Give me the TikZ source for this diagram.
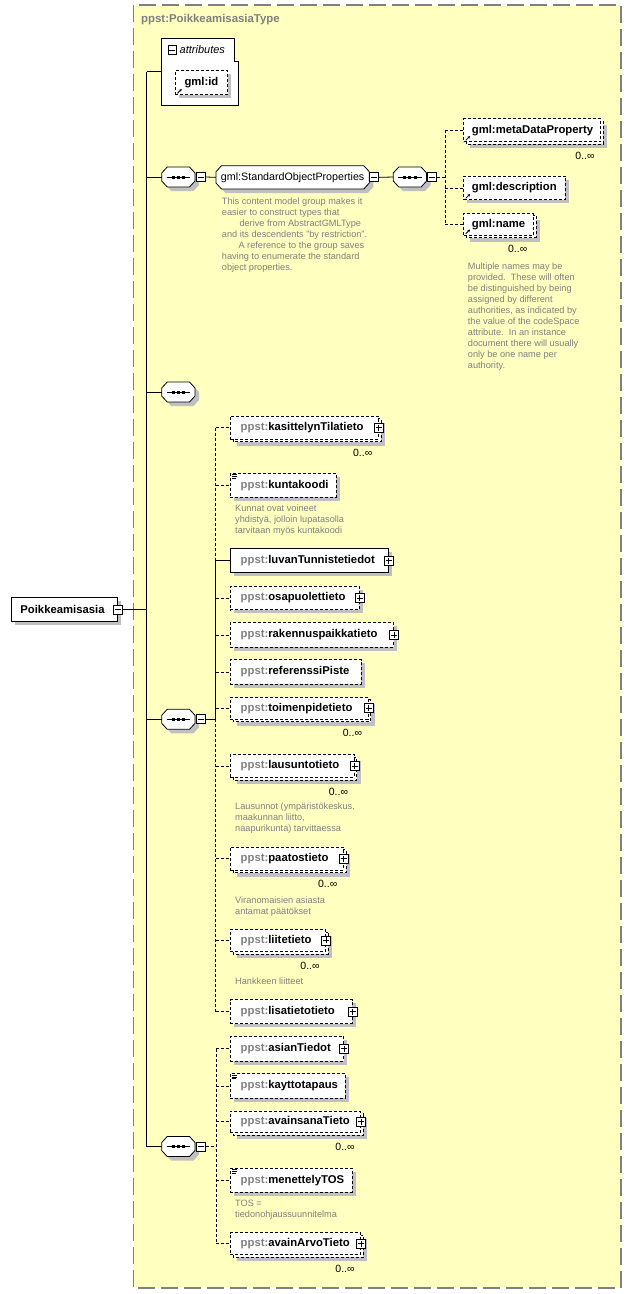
\documentclass[tikz,border=0pt]{standalone}
\usepackage{fontspec}
\setmainfont{Liberation Sans}
\usetikzlibrary{arrows.meta,calc}
\definecolor{ylw}{RGB}{255,255,192}
\definecolor{shd}{RGB}{192,192,192}
\definecolor{pfx}{RGB}{128,128,128}
\definecolor{doc}{RGB}{128,128,128}
\definecolor{frm}{RGB}{128,128,128}
\tikzset{
  box/.style={draw=black, fill=white, rectangle, inner sep=0pt, anchor=north west, line width=0.8pt},
  opt/.style={dash pattern=on 3pt off 2pt},
  req/.style={solid},
  elt/.style={inner sep=0pt, font=\fontsize{11.3}{13}\selectfont\bfseries},
  mult/.style={inner sep=0pt, font=\fontsize{10.5}{12}\selectfont},
  docn/.style={inner sep=0pt, anchor=north west, align=left, text=doc, font=\fontsize{9.2}{11}\selectfont},
  pmbox/.style={draw=black, fill=white, rectangle, minimum size=9pt, inner sep=0pt, line width=0.8pt},
  plusbox/.style={pmbox, path picture={\draw[line width=0.8pt] ([xshift=-3pt]path picture bounding box.center) -- ([xshift=3pt]path picture bounding box.center) ([yshift=-3pt]path picture bounding box.center) -- ([yshift=3pt]path picture bounding box.center);}},
  minusbox/.style={pmbox, path picture={\draw[line width=0.8pt] ([xshift=-3pt]path picture bounding box.center) -- ([xshift=3pt]path picture bounding box.center);}},
  con/.style={line width=0.8pt},
  dcon/.style={line width=0.8pt, dash pattern=on 3pt off 2pt},
}
% single element: #1 style, #2 name, #3 x0, #4 y0, #5 x1, #6 y1, #7 text, #8 text offset
\newcommand\xSingle[8]{%
  \fill[shd] (#3+4,#4+4) rectangle (#5+4,#6+4);
  \node[box,#1,minimum width=#5-#3,minimum height=#6-#4] (#2) at (#3,#4) {};
  \node[elt,anchor=west] (#2-t) at ([xshift=#8pt]#2.west) {#7};
}
% multiple element
\newcommand\xMulti[8]{%
  \fill[shd] (#3+7,#4+7) rectangle (#5+4,#6+4);
  \draw[#1,fill=white,line width=0.8pt] (#3+3,#4+3) rectangle (#5,#6);
  \node[box,#1,minimum width=#5-#3-3,minimum height=#6-#4-3] (#2) at (#3,#4) {};
  \node[elt,anchor=west] (#2-t) at ([xshift=#8pt]#2.west) {#7};
  \node[mult,anchor=east] (#2-c) at (#5-8.5,#6+11.5) {0..∞};
}
\newcommand\xPlus[1]{\node[plusbox] (#1-p) at (#1.east) {};}
\newcommand\xIco[1]{%
  \draw[line width=0.6pt] ($(#1.north west)+(2.2,2)$) -- ++(5,0);
  \draw[line width=0.6pt] ($(#1.north west)+(2.2,3.6)$) -- ++(5,0);
  \draw[line width=0.6pt] ($(#1.north west)+(2.2,5.2)$) -- ++(3.5,0);
}
\newcommand\xRefIco[1]{%
  \draw[line width=0.8pt,-{Stealth[length=2.6pt,width=2.8pt]}] ($(#1.south west)+(2.5,-1.8)$) -- ++(4.2,-4.2);
}
\newcommand\xOct[5]{%
  \path[#1] (#2,#3+6) -- (#2+5.5,#3) -- (#4-5.5,#3) -- (#4,#3+6) -- (#4,#5-6) -- (#4-5.5,#5) -- (#2+5.5,#5) -- (#2,#5-6) -- cycle;}
% sequence: #1 name, #2 x0, #3 cy
\newcommand\xSeq[3]{%
  \xOct{fill=shd}{#2+4}{#3-10+4}{#2+33.3+4}{#3+10+4}
  \xOct{draw,fill=white,line width=0.8pt}{#2}{#3-10}{#2+33.3}{#3+10}
  \node[inner sep=0pt,outer sep=0pt,minimum width=33.3pt,minimum height=20pt,anchor=west] (#1) at (#2,#3) {};
  \draw[line width=0.8pt] (#2+5,#3) -- (#2+28.3,#3);
  \foreach \dx in {11.5,16.65,21.8} {\fill (#2+\dx-1.5,#3-1.5) rectangle ++(3,3);}
}
\begin{document}
\begin{tikzpicture}[x=1pt,y=-1pt]
\useasboundingbox (0,0) rectangle (632,1294);
% frame
\draw[fill=ylw, draw=frm, line width=1.2pt, dash pattern=on 17pt off 6pt] (133.3,5) rectangle (621,1288);
\node[anchor=west, inner sep=0pt, text=pfx, font=\fontsize{11.4}{13}\selectfont\bfseries] (title) at (141,19.3) {ppst:PoikkeamisasiaType};

% root element
\xSingle{req}{poik}{10.7}{597.3}{117.3}{621}{Poikkeamisasia}{9.5}
\node[minusbox] (poik-m) at (poik.east) {};

% attributes
\draw[fill=white,line width=0.8pt] (161.7,38.3) -- (234,38.3) -- (234,61) -- (238.3,61) -- (238.3,105) -- (161.7,105) -- cycle;
\node[inner sep=0pt,outer sep=0pt,minimum width=76.6pt,minimum height=66.7pt,anchor=north west] (attrs) at (161.7,38.3) {};
\node[minusbox,minimum size=8.6pt] (attrs-m) at (172.2,50) {};
\node[anchor=west,inner sep=0pt,font=\fontsize{11}{13}\selectfont\itshape] (attrs-t) at (179.5,50) {attributes};
\xSingle{opt}{gid}{175}{70}{227.3}{94.3}{gml:id}{9.3}
\xRefIco{gid}

% sequences
\xSeq{s1}{161.7}{177}
\node[minusbox] (s1-m) at (200.85,177) {};
\xSeq{s2}{161.7}{392}
\xSeq{s3}{161.7}{719.3}
\node[minusbox] (s3-m) at (200.85,719.3) {};
\xSeq{s4}{161.7}{1146.5}
\node[minusbox] (s4-m) at (200.85,1146.5) {};

% group
\xOct{fill=shd}{220}{169.7}{373.3}{193}
\xOct{draw,fill=white,line width=0.8pt}{216}{165.7}{369.3}{189}
\node[inner sep=0pt,outer sep=0pt,minimum width=153.3pt,minimum height=23.3pt,anchor=north west,font=\fontsize{10.7}{12}\selectfont] (grp) at (216,165.7) {gml:StandardObjectProperties};
\node[minusbox] (grp-m) at (374.2,177.35) {};
\node[docn] (grp-d) at (221.7,197.2) {This content model group makes it\\easier to construct types that\\\hspace*{17.6pt}derive from AbstractGMLType\\and its descendents "by restriction".\\\hspace*{16.6pt}A reference to the group saves\\having to enumerate the standard\\object properties.};

\xSeq{si}{393.3}{177}
\node[minusbox] (si-m) at (432.3,177) {};

% gml elements
\xMulti{opt}{meta}{463.3}{118.3}{603.3}{144.3}{gml:metaDataProperty}{8.4}
\xRefIco{meta}
\xSingle{opt}{desc}{463.3}{175.7}{565}{199.3}{gml:description}{8.4}
\xRefIco{desc}
\xMulti{opt}{gname}{463.3}{212.7}{536}{237.7}{gml:name}{8.4}
\xRefIco{gname}
\node[docn] (gname-d) at (467.7,262.4) {Multiple names may be\\provided.\ \ These will often\\be distinguished by being\\assigned by different\\authorities, as indicated by\\the value of the codeSpace\\attribute.\ \ In an instance\\document there will usually\\only be one name per\\authority.};

% ppst elements
\xMulti{opt}{kas}{230}{415.7}{381}{441.7}{\textcolor{pfx}{ppst:}kasittelynTilatieto}{10.5}
\xPlus{kas}
\xSingle{opt}{kun}{230}{472.7}{335.7}{496.7}{\textcolor{pfx}{ppst:}kuntakoodi}{10.5}
\xIco{kun}
\node[docn] (kun-d) at (235,504.7) {Kunnat ovat voineet\\yhdistyä, jolloin lupatasolla\\tarvitaan myös kuntakoodi};
\xSingle{req}{luv}{230}{548.3}{387.7}{572.3}{\textcolor{pfx}{ppst:}luvanTunnistetiedot}{10.5}
\xPlus{luv}
\xSingle{opt}{osa}{230}{585.7}{359}{609.3}{\textcolor{pfx}{ppst:}osapuolettieto}{10.5}
\xPlus{osa}
\xSingle{opt}{rak}{230}{622.3}{393.3}{646.7}{\textcolor{pfx}{ppst:}rakennuspaikkatieto}{10.5}
\xPlus{rak}
\xSingle{opt}{ref}{230}{659.3}{361}{684}{\textcolor{pfx}{ppst:}referenssiPiste}{10.5}
\xMulti{opt}{toi}{230}{696.7}{370.7}{721.7}{\textcolor{pfx}{ppst:}toimenpidetieto}{10.5}
\xPlus{toi}
\xMulti{opt}{lau}{230}{754}{356.7}{780}{\textcolor{pfx}{ppst:}lausuntotieto}{10.5}
\xPlus{lau}
\node[docn] (lau-d) at (235,803.1) {Lausunnot (ympäristökeskus,\\maakunnan liitto,\\naapurikunta) tarvittaessa};
\xMulti{opt}{paa}{230}{846.7}{346}{872.7}{\textcolor{pfx}{ppst:}paatostieto}{10.5}
\xPlus{paa}
\node[docn] (paa-d) at (235,896.4) {Viranomaisien asiasta\\antamat päätökset};
\xMulti{opt}{lii}{230}{929}{328.3}{954}{\textcolor{pfx}{ppst:}liitetieto}{10.5}
\xPlus{lii}
\node[docn] (lii-d) at (235,978.1) {Hankkeen liitteet};
\xSingle{opt}{lis}{230}{999.3}{351.7}{1023.3}{\textcolor{pfx}{ppst:}lisatietotieto}{10.5}
\xPlus{lis}

\xSingle{opt}{asi}{230}{1036}{343.3}{1060.7}{\textcolor{pfx}{ppst:}asianTiedot}{10.5}
\xPlus{asi}
\xSingle{opt}{kay}{230}{1073.3}{345}{1097.7}{\textcolor{pfx}{ppst:}kayttotapaus}{10.5}
\xIco{kay}
\xMulti{opt}{ava}{230}{1110.7}{363.3}{1135}{\textcolor{pfx}{ppst:}avainsanaTieto}{10.5}
\xPlus{ava}
\xSingle{opt}{men}{230}{1167.7}{351.7}{1191.7}{\textcolor{pfx}{ppst:}menettelyTOS}{10.5}
\xIco{men}
\node[docn] (men-d) at (235,1199.7) {TOS =\\tiedonohjaussuunnitelma};
\xMulti{opt}{aar}{230}{1232.3}{363.3}{1257.3}{\textcolor{pfx}{ppst:}avainArvoTieto}{10.5}
\xPlus{aar}

% connectors: trunk
\coordinate (tT) at (146.7,71.7);
\draw[con] (tT) -- (tT |- s4.west);
\draw[con] (tT) -- (attrs.west |- tT);
\draw[con] (tT |- s1.west) -- (s1.west);
\draw[con] (tT |- s2.west) -- (s2.west);
\draw[con] (tT |- s3.west) -- (s3.west);
\draw[con] (tT |- s4.west) -- (s4.west);
\draw[con] (poik-m.east) -- (poik-m.east -| tT);
% group branch
\draw[con] (s1-m.east) -- (grp.west);
\draw[con] (grp-m.east) -- (si.west);
\coordinate (v5) at (445,0);
\draw[dcon] (si-m.east) -- (si-m.east -| v5);
\draw[dcon] (v5 |- meta.west) -- (v5 |- gname.west);
\foreach \n in {meta,desc,gname} {\draw[dcon] (v5 |- \n.west) -- (\n.west);}
% main sequence branch
\coordinate (v3) at (215.7,0);
\draw[dcon] (v3 |- kas.west) -- (v3 |- luv.west);
\draw[con] (v3 |- luv.west) -- (v3 |- s3.east);
\draw[dcon] (v3 |- s3.east) -- (v3 |- lis.west);
\draw[con] (s3-m.east) -- (s3-m.east -| v3);
\draw[con] (v3 |- luv.west) -- (luv.west);
\foreach \n in {kas,kun,osa,rak,ref,toi,lau,paa,lii,lis} {\draw[dcon] (v3 |- \n.west) -- (\n.west);}
% last sequence branch
\coordinate (v4) at (216,0);
\draw[dcon] (v4 |- asi.west) -- (v4 |- aar.west);
\draw[dcon] (s4-m.east) -- (s4-m.east -| v4);
\foreach \n in {asi,kay,ava,men,aar} {\draw[dcon] (v4 |- \n.west) -- (\n.west);}
\end{tikzpicture}
\end{document}
